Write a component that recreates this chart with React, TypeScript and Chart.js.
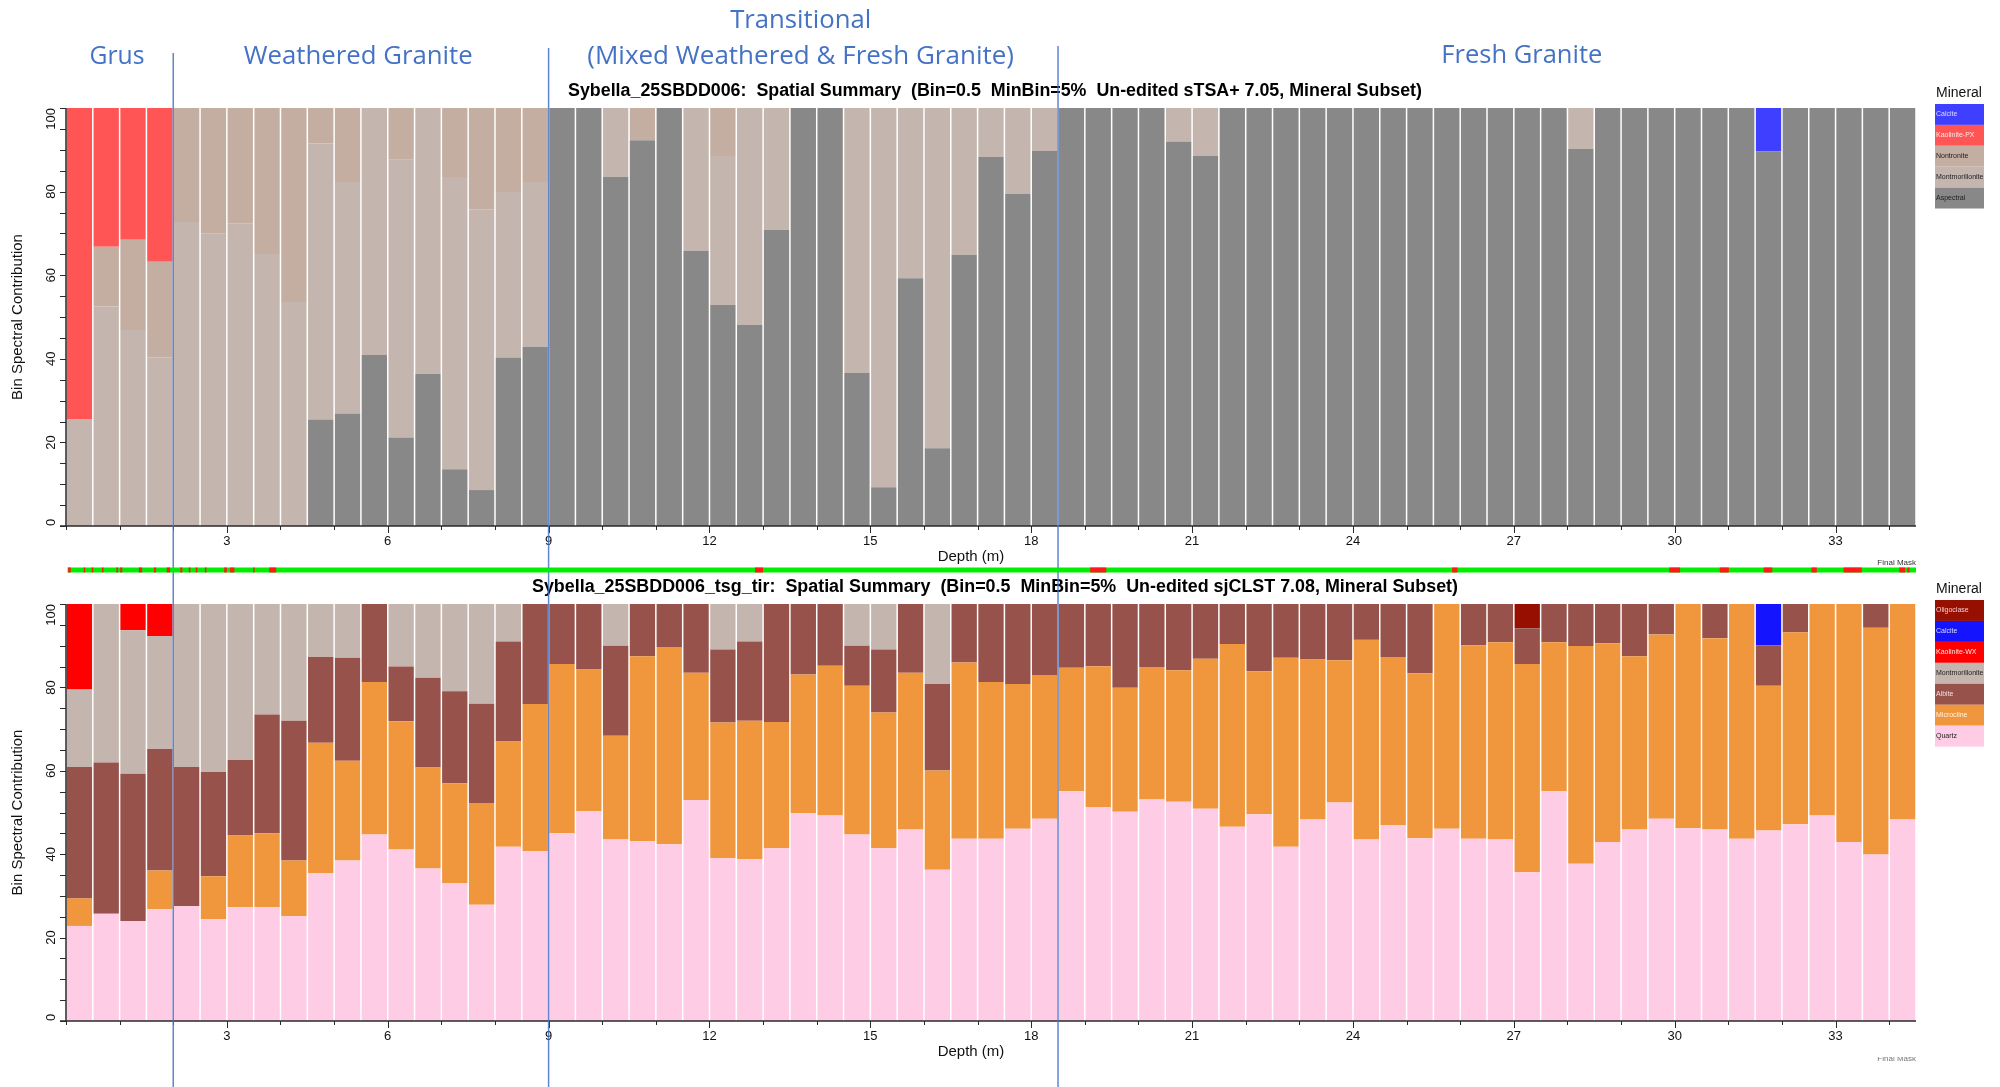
import React, { useEffect, useRef } from 'react';
import { Chart, registerables } from 'chart.js';

Chart.register(...registerables);

// ---------------- DATA ----------------
const DEPTH_BINS = [0.25,0.75,1.25,1.75,2.25,2.75,3.25,3.75,4.25,4.75,5.25,5.75,6.25,6.75,7.25,7.75,8.25,8.75,9.25,9.75,10.25,10.75,11.25,11.75,12.25,12.75,13.25,13.75,14.25,14.75,15.25,15.75,16.25,16.75,17.25,17.75,18.25,18.75,19.25,19.75,20.25,20.75,21.25,21.75,22.25,22.75,23.25,23.75,24.25,24.75,25.25,25.75,26.25,26.75,27.25,27.75,28.25,28.75,29.25,29.75,30.25,30.75,31.25,31.75,32.25,32.75,33.25,33.75,34.25];

const X_TICKS = [0,1,2,3,4,5,6,7,8,9,10,11,12,13,14,15,16,17,18,19,20,21,22,23,24,25,26,27,28,29,30,31,32,33,34];
const X_LABELS = [3,6,9,12,15,18,21,24,27,30,33];
const Y_TICKS = [0,5,10,15,20,25,30,35,40,45,50,55,60,65,70,75,80,85,90,95,100];
const Y_LABELS = [0,20,40,60,80,100];

// Top chart (sTSA+ 7.05) — stacked bottom -> top
const ASPECTRAL = [0,0,0,0,0,0,0,0,0,25.5,26.9,40.9,21.2,36.4,13.6,8.6,40.3,42.9,100,100,83.5,92.3,100,65.8,52.9,48.1,70.8,100,100,36.6,9.3,59.3,18.6,64.9,88.3,79.4,89.7,100,100,100,100,91.9,88.5,100,100,100,100,100,100,100,100,100,100,100,100,100,90.2,100,100,100,100,100,100,89.6,100,100,100,100,100];
const MONTMORILLONITE_TOP = [25.6,52.5,46.9,40.4,72.7,69.9,72.4,65.1,53.6,66.0,55.4,59.1,66.4,63.6,69.9,67.2,39.6,39.4,0,0,16.5,0,0,34.2,35.6,51.9,29.2,0,0,63.4,90.7,40.7,81.4,35.1,11.7,20.6,10.3,0,0,0,0,8.1,11.5,0,0,0,0,0,0,0,0,0,0,0,0,0,9.8,0,0,0,0,0,0,0,0,0,0,0,0];
const NONTRONITE = [0,14.3,21.6,22.8,27.3,30.1,27.6,34.9,46.4,8.5,17.7,0,12.4,0,16.5,24.2,20.1,17.7,0,0,0,7.7,0,0,11.5,0,0,0,0,0,0,0,0,0,0,0,0,0,0,0,0,0,0,0,0,0,0,0,0,0,0,0,0,0,0,0,0,0,0,0,0,0,0,0,0,0,0,0,0];
const KAOLINITE_PX = [74.4,33.2,31.5,36.8,0,0,0,0,0,0,0,0,0,0,0,0,0,0,0,0,0,0,0,0,0,0,0,0,0,0,0,0,0,0,0,0,0,0,0,0,0,0,0,0,0,0,0,0,0,0,0,0,0,0,0,0,0,0,0,0,0,0,0,0,0,0,0,0,0];
const CALCITE_TOP = [0,0,0,0,0,0,0,0,0,0,0,0,0,0,0,0,0,0,0,0,0,0,0,0,0,0,0,0,0,0,0,0,0,0,0,0,0,0,0,0,0,0,0,0,0,0,0,0,0,0,0,0,0,0,0,0,0,0,0,0,0,0,0,10.4,0,0,0,0,0];

// Bottom chart (sjCLST 7.08) — stacked bottom -> top
const QUARTZ = [22.8,25.7,24.0,26.8,27.5,24.4,27.3,27.3,25.1,35.5,38.5,44.7,41.1,36.6,33.1,27.9,41.8,40.7,45.0,50.3,43.5,43.1,42.4,53.0,39.0,38.8,41.4,49.8,49.3,44.7,41.4,45.9,36.3,43.7,43.7,46.1,48.5,55.1,51.3,50.2,53.1,52.6,50.9,46.6,49.6,41.8,48.3,52.4,43.5,47.0,43.8,46.1,43.7,43.5,35.7,55.1,37.7,42.9,45.9,48.5,46.2,45.9,43.7,45.7,47.2,49.3,42.9,39.9,48.3];
const MICROCLINE = [6.6,0,0,9.3,0,10.3,17.2,17.7,13.4,31.2,23.9,36.6,30.8,24.2,23.9,24.4,25.2,35.3,40.6,34.0,24.9,44.4,47.3,30.5,32.6,33.2,30.3,33.3,35.9,35.7,32.6,37.6,23.8,42.3,37.6,34.7,34.5,29.6,33.8,29.7,31.8,31.5,36.0,43.8,34.3,45.3,38.4,34.1,47.9,40.3,39.6,53.9,46.4,47.3,49.9,35.7,52.2,47.7,41.6,44.2,53.8,45.9,56.3,34.7,46.0,50.7,57.1,54.4,51.7];
const ALBITE = [31.5,36.3,35.3,29.1,33.4,25.0,18.1,28.5,33.5,20.6,24.7,18.7,13.1,21.5,22.1,23.8,24.0,24.0,14.4,15.7,21.6,12.5,10.3,16.5,17.5,19.0,28.3,16.9,14.8,9.6,15.1,16.5,20.7,14.0,18.7,19.2,17.0,15.3,14.9,20.1,15.1,15.9,13.1,9.6,16.1,12.9,13.3,13.5,8.6,12.7,16.6,0,9.9,9.2,8.6,9.2,10.1,9.4,12.5,7.3,0,8.2,0,9.7,6.8,0,0,5.7,0];
const MONTMORILLONITE_BOT = [18.6,38.0,34.4,27.1,39.1,40.3,37.4,26.5,28.0,12.7,12.9,0,15.0,17.7,20.9,23.9,9.0,0,0,0,10.0,0,0,0,10.9,9.0,0,0,0,10.0,10.9,0,19.2,0,0,0,0,0,0,0,0,0,0,0,0,0,0,0,0,0,0,0,0,0,0,0,0,0,0,0,0,0,0,0,0,0,0,0,0];
const KAOLINITE_WX = [20.5,0,6.3,7.7,0,0,0,0,0,0,0,0,0,0,0,0,0,0,0,0,0,0,0,0,0,0,0,0,0,0,0,0,0,0,0,0,0,0,0,0,0,0,0,0,0,0,0,0,0,0,0,0,0,0,0,0,0,0,0,0,0,0,0,0,0,0,0,0,0];
const CALCITE_BOT = [0,0,0,0,0,0,0,0,0,0,0,0,0,0,0,0,0,0,0,0,0,0,0,0,0,0,0,0,0,0,0,0,0,0,0,0,0,0,0,0,0,0,0,0,0,0,0,0,0,0,0,0,0,0,0,0,0,0,0,0,0,0,0,9.9,0,0,0,0,0];
const OLIGOCLASE = [0,0,0,0,0,0,0,0,0,0,0,0,0,0,0,0,0,0,0,0,0,0,0,0,0,0,0,0,0,0,0,0,0,0,0,0,0,0,0,0,0,0,0,0,0,0,0,0,0,0,0,0,0,0,5.8,0,0,0,0,0,0,0,0,0,0,0,0,0,0];

// Final mask: rejected (red) depth intervals on a green track
const MASK_RED = [[0.04,0.09],[0.33,0.36],[0.48,0.51],[0.67,0.7],[0.94,0.97],[1.01,1.05],[1.36,1.42],[1.64,1.68],[1.88,1.94],[2.13,2.17],[2.29,2.32],[2.42,2.45],[2.59,2.62],[2.95,3.0],[3.06,3.14],[3.49,3.51],[3.79,3.92],[12.85,13.0],[19.1,19.4],[25.85,25.95],[29.9,30.1],[30.84,31.01],[31.66,31.82],[32.55,32.65],[33.15,33.49],[34.19,34.3],[34.34,34.38]];

// Zones
const ZONE_BOUNDARIES = [2, 9, 18.5];
const ZONE_NAMES = ['Grus', 'Weathered Granite', 'Transitional', '(Mixed Weathered & Fresh Granite)', 'Fresh Granite'];
const ZONE_NAME_DEPTH = [0.95, 5.45, 13.7, 13.7, 27.15];

const TOP_TITLE = 'Sybella_25SBDD006:  Spatial Summary  (Bin=0.5  MinBin=5%  Un-edited sTSA+ 7.05, Mineral Subset)';
const BOT_TITLE = 'Sybella_25SBDD006_tsg_tir:  Spatial Summary  (Bin=0.5  MinBin=5%  Un-edited sjCLST 7.08, Mineral Subset)';

// ---------------- STYLE ----------------
const SANS = '"Liberation Sans", Arial, Helvetica, sans-serif';
const ZONE_FONT = '"Open Sans", "Liberation Sans", sans-serif';
const ZONE_BLUE = '#4472c4';

type Series = { label: string; data: number[]; color: string; text: string };

const TOP_SERIES: Series[] = [
  { label: 'Aspectral', data: ASPECTRAL, color: '#888888', text: '#1e1e1e' },
  { label: 'Montmorillonite', data: MONTMORILLONITE_TOP, color: '#c4b6ae', text: '#222222' },
  { label: 'Nontronite', data: NONTRONITE, color: '#c4aea1', text: '#222222' },
  { label: 'Kaolinite-PX', data: KAOLINITE_PX, color: '#ff5555', text: '#ffe6e6' },
  { label: 'Calcite', data: CALCITE_TOP, color: '#3f3fff', text: '#dcdcff' },
];

const BOT_SERIES: Series[] = [
  { label: 'Quartz', data: QUARTZ, color: '#ffcce6', text: '#222222' },
  { label: 'Microcline', data: MICROCLINE, color: '#f0973e', text: '#fff2de' },
  { label: 'Albite', data: ALBITE, color: '#96524b', text: '#f3dcdc' },
  { label: 'Montmorillonite', data: MONTMORILLONITE_BOT, color: '#c4b6ae', text: '#222222' },
  { label: 'Kaolinite-WX', data: KAOLINITE_WX, color: '#ff0000', text: '#ffe2e2' },
  { label: 'Calcite', data: CALCITE_BOT, color: '#1414ff', text: '#dadaff' },
  { label: 'Oligoclase', data: OLIGOCLASE, color: '#960f00', text: '#f2cccc' },
];

type Decor = {
  which: 'top' | 'bottom';
  title: string;
  titleY: number;
  titleW: number;
  legendTitleY: number;
  legendTop: number;
  legendRowH: number;
  textColors: string[];
};

const decorPlugin = {
  id: 'decor',
  afterDraw(chart: any, _args: any, opts: Decor) {
    const ctx: CanvasRenderingContext2D = chart.ctx;
    const { left, right, top, bottom } = chart.chartArea;
    const xs = chart.scales.x;
    const ys = chart.scales.y;
    const H = chart.height;
    ctx.save();

    // ---- axes ----
    ctx.strokeStyle = '#2a2a2a';
    ctx.lineWidth = 1.5;
    ctx.beginPath();
    ctx.moveTo(left, top);
    ctx.lineTo(left, bottom);
    ctx.moveTo(left - 6, bottom);
    ctx.lineTo(right, bottom);
    ctx.stroke();

    ctx.lineWidth = 1;
    ctx.beginPath();
    Y_TICKS.forEach((v) => {
      const y = Math.round(ys.getPixelForValue(v)) + 0.5;
      ctx.moveTo(left - 6, y);
      ctx.lineTo(left, y);
    });
    X_TICKS.forEach((v) => {
      const x = Math.round(xs.getPixelForValue(v)) + 0.5;
      const major = X_LABELS.indexOf(v) >= 0;
      ctx.moveTo(x, bottom);
      ctx.lineTo(x, bottom + (major ? 7 : 4));
    });
    ctx.stroke();

    ctx.fillStyle = '#111';
    ctx.font = '13px ' + SANS;
    ctx.textAlign = 'center';
    ctx.textBaseline = 'middle';
    X_LABELS.forEach((v) => {
      ctx.fillText(String(v), xs.getPixelForValue(v), bottom + 15);
    });
    Y_LABELS.forEach((v) => {
      const label = String(v);
      const w = ctx.measureText(label).width;
      const y = ys.getPixelForValue(v);
      const cy = Math.min(Math.max(y, top + w / 2), bottom - w / 2);
      ctx.save();
      ctx.translate(left - 15, cy);
      ctx.rotate(-Math.PI / 2);
      ctx.fillText(label, 0, 0);
      ctx.restore();
    });

    ctx.font = '15px ' + SANS;
    ctx.save();
    ctx.translate(18, (top + bottom) / 2);
    ctx.rotate(-Math.PI / 2);
    ctx.fillText('Bin Spectral Contribution', 0, 0);
    ctx.restore();
    ctx.fillText('Depth (m)', 971, bottom + 30.5);

    // ---- title ----
    ctx.font = 'bold 18px ' + SANS;
    ctx.fillStyle = '#000';
    ctx.fillText(opts.title, 995, opts.titleY, opts.titleW);

    // ---- legend ----
    const ds = chart.data.datasets;
    ctx.font = '14px ' + SANS;
    ctx.fillStyle = '#111';
    ctx.fillText('Mineral', 1959, opts.legendTitleY);
    const n = ds.length;
    for (let k = 0; k < n; k++) {
      const d = ds[n - 1 - k];
      const y0 = opts.legendTop + k * opts.legendRowH;
      ctx.fillStyle = d.backgroundColor;
      ctx.fillRect(1935, y0, 49, opts.legendRowH);
      ctx.fillStyle = opts.textColors[n - 1 - k];
      ctx.font = '7px ' + SANS;
      ctx.textAlign = 'left';
      ctx.fillText(d.label, 1936, y0 + opts.legendRowH / 2);
      ctx.textAlign = 'center';
    }

    // ---- zone boundary lines ----
    ctx.strokeStyle = 'rgba(68,114,196,0.85)';
    ctx.lineWidth = 1.5;
    const starts = [53, 48, 46];
    ZONE_BOUNDARIES.forEach((d, i) => {
      const x = xs.getPixelForValue(d);
      ctx.beginPath();
      ctx.moveTo(x, opts.which === 'top' ? starts[i] : 0);
      ctx.lineTo(x, H);
      ctx.stroke();
    });

    if (opts.which === 'top') {
      // zone labels
      ctx.fillStyle = ZONE_BLUE;
      ctx.font = '26px ' + ZONE_FONT;
      ctx.textBaseline = 'alphabetic';
      const ys2 = [64, 64, 28, 64, 63];
      const ws = [55, 229, 141, 429, 161];
      ZONE_NAMES.forEach((t, i) => {
        ctx.fillText(t, xs.getPixelForValue(ZONE_NAME_DEPTH[i]), ys2[i], ws[i]);
      });

      // final mask track
      const mTop = 567.5, mH = 5;
      const x0 = xs.getPixelForValue(0.03), x1 = xs.getPixelForValue(34.5);
      ctx.fillStyle = '#00ee00';
      ctx.fillRect(x0, mTop, x1 - x0, mH);
      ctx.fillStyle = '#ff1a1a';
      MASK_RED.forEach(([a, b]) => {
        const pa = xs.getPixelForValue(a), pb = xs.getPixelForValue(b);
        ctx.fillRect(pa, mTop, Math.max(1.5, pb - pa), mH);
      });
      ctx.fillStyle = '#333';
      ctx.font = '8px ' + SANS;
      ctx.textAlign = 'right';
      ctx.fillText('Final Mask', right, 565);
    } else {
      ctx.save();
      ctx.beginPath();
      ctx.rect(0, bottom + 36, chart.width, H);
      ctx.clip();
      ctx.fillStyle = '#777';
      ctx.font = '8px ' + SANS;
      ctx.textAlign = 'right';
      ctx.textBaseline = 'alphabetic';
      ctx.fillText('Final Mask', right, bottom + 40);
      ctx.restore();
    }

    ctx.restore();
  },
};

function buildConfig(series: Series[], pad: { top: number; bottom: number }, decor: Decor): any {
  return {
    type: 'bar',
    data: {
      datasets: series.map((s) => ({
        label: s.label,
        data: DEPTH_BINS.map((d, i) => ({ x: d, y: s.data[i] })),
        backgroundColor: s.color,
        borderWidth: 0,
        stack: 'minerals',
        barPercentage: 0.944,
        categoryPercentage: 1,
      })),
    },
    options: {
      animation: false,
      responsive: false,
      events: [],
      layout: { padding: { left: 66, right: 84, top: pad.top, bottom: pad.bottom } },
      scales: {
        x: { type: 'linear', min: 0, max: 34.5, offset: false, grid: { offset: false }, display: false },
        y: { type: 'linear', min: 0, max: 100, stacked: true, display: false },
      },
      plugins: {
        legend: { display: false },
        title: { display: false },
        tooltip: { enabled: false },
        decor,
      },
    },
    plugins: [decorPlugin],
  };
}

function ChartCanvas({ config, width, height, top }: { config: any; width: number; height: number; top: number }) {
  const ref = useRef<HTMLCanvasElement | null>(null);
  useEffect(() => {
    if (!ref.current) return;
    const chart = new Chart(ref.current, config);
    return () => chart.destroy();
  }, []);
  return (
    <canvas
      ref={ref}
      width={width}
      height={height}
      style={{ position: 'absolute', left: 0, top, width, height, display: 'block' }}
    />
  );
}

export default function App() {
  const topCfg = buildConfig(TOP_SERIES, { top: 108, bottom: 50 }, {
    which: 'top',
    title: TOP_TITLE,
    titleY: 91,
    titleW: 854,
    legendTitleY: 93,
    legendTop: 104,
    legendRowH: 20.9,
    textColors: TOP_SERIES.map((s) => s.text),
  });
  const botCfg = buildConfig(BOT_SERIES, { top: 28, bottom: 66 }, {
    which: 'bottom',
    title: BOT_TITLE,
    titleY: 11,
    titleW: 926,
    legendTitleY: 13,
    legendTop: 24,
    legendRowH: 20.95,
    textColors: BOT_SERIES.map((s) => s.text),
  });
  return (
    <div style={{ position: 'absolute', left: 0, top: 0, width: 2000, height: 1087, background: '#fff', overflow: 'hidden' }}>
      <ChartCanvas config={topCfg} width={2000} height={576} top={0} />
      <ChartCanvas config={botCfg} width={2000} height={511} top={576} />
    </div>
  );
}
